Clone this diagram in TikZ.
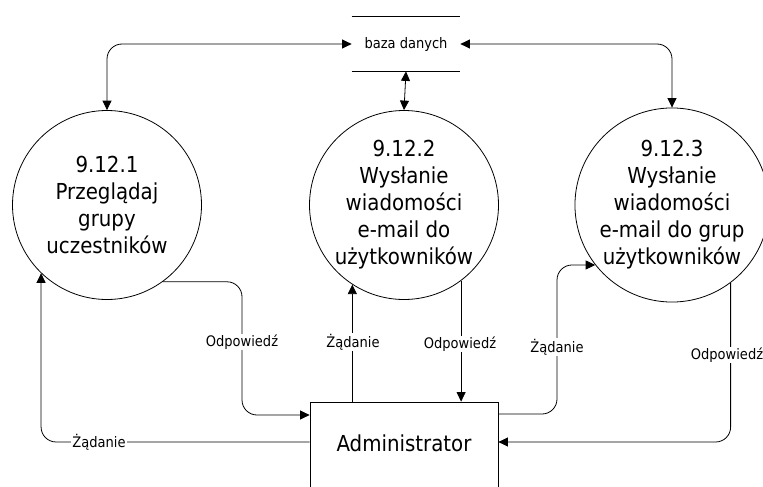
\documentclass[tikz,border=0pt]{standalone}
\usepackage{fontspec}
\setmainfont{DejaVu Sans Condensed}
\usetikzlibrary{arrows.meta}
\begin{document}
\begin{tikzpicture}[x=1pt,y=-1pt,
  line width=0.8pt,
  flow/.style={-{Triangle[length=9.5pt,width=9pt]},rounded corners=15pt},
  biflow/.style={{Triangle[length=9.5pt,width=9pt]}-{Triangle[length=9.5pt,width=9pt]},rounded corners=15pt},
  proc/.style={circle,draw,minimum size=189pt,inner sep=0pt,align=center,font=\fontsize{22}{27}\selectfont},
  lbl/.style={fill=white,inner sep=1pt,font=\fontsize{14.5}{16}\selectfont},
  store/.style={minimum width=108pt,minimum height=54pt,inner sep=0pt,font=\fontsize{14.5}{16}\selectfont}]
\useasboundingbox (0,0) rectangle (763,487);
% data store
\node[store] (db) at (406,44) {baza danych};
\draw (db.north west) -- (db.north east);
\draw (db.south west) -- (db.south east);
% processes
\node[proc] (c1) at (107,205) {9.12.1\\Przeglądaj\\grupy\\uczestników};
\node[proc] (c2) at (404,205) {9.12.2\\Wysłanie\\wiadomości\\e-mail do\\użytkowników};
\node[proc] (c3) at (672,205) {9.12.3\\Wysłanie\\wiadomości\\e-mail do grup\\użytkowników};
% external entity (bottom edge outside the picture)
\node[draw,minimum width=188pt,minimum height=110pt,inner sep=0pt] (adm) at (404,457) {};
\node[font=\fontsize{22}{27}\selectfont] (admtxt) at (404,443) {Administrator};
% store connectors
\draw[biflow] (db.west) -| (c1.north);
\draw[biflow] (db.east) -| (c3.north);
\draw[biflow] (db.south) -- (c2.north);
% process 1
\draw[flow] (c1.-54) -| (242,415) -- (adm.west |- 0,415);
\draw[flow] (adm.west |- 0,442) -| (c1.-134);
% process 2
\draw[flow] (adm.north -| c2.-123) -- (c2.-123);
\draw[flow] (c2.-53) -- (c2.-53 |- adm.north);
% process 3
\draw[flow] (adm.east |- 0,414) -| (557,0 |- c3.-142) -- (c3.-142);
\draw[flow] (c3.-53) |- (adm.east |- 0,442);
% labels
\node[lbl] (l1) at (242,342) {Odpowiedź};
\node[lbl] (l2) at (99,442) {Żądanie};
\node[lbl] (l3) at (353,342) {Żądanie};
\node[lbl] (l4) at (460,344) {Odpowiedź};
\node[lbl] (l5) at (557,347) {Żądanie};
\node[lbl] (l6) at (727,355) {Odpowiedź};
\end{tikzpicture}
\end{document}
